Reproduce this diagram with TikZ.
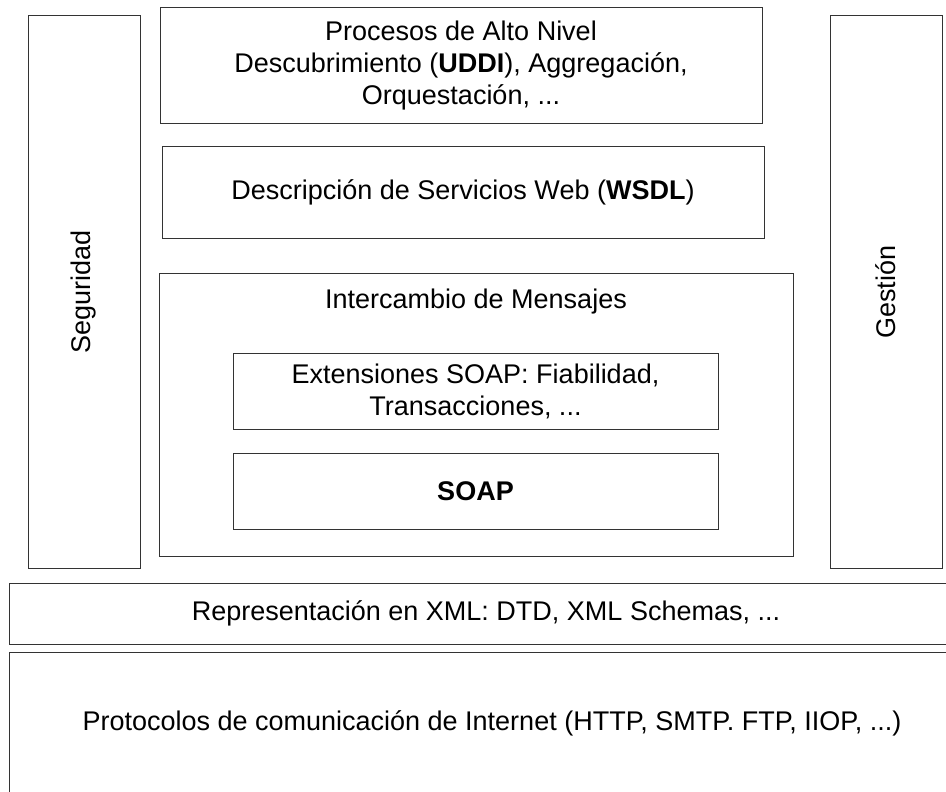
\documentclass[tikz,border=0pt]{standalone}
\usepackage{fontspec}
\setmainfont{Liberation Sans}
\usepackage{tikz}
\tikzstyle{stack}=[x=1pt, y=-1pt, font=\fontsize{27}{32}\selectfont]
\tikzstyle{layer}=[rectangle, draw=black!80, line width=1pt, inner sep=0pt, align=center]
\tikzstyle{side}=[layer, minimum width=112pt, minimum height=552pt]
\tikzstyle{upper}=[layer, minimum width=602pt]
\tikzstyle{inner}=[layer, minimum width=485pt, minimum height=76pt]
\tikzstyle{lbl}=[inner sep=0pt, anchor=base]

\begin{document}
\begin{tikzpicture}[stack]
	\useasboundingbox (0,0) rectangle (946,792);
	\clip (0,0) rectangle (946,792);

	%The side columns
	\draw (84,292) node[side] (seg) {};
	\node[rotate=90] at (seg.center) (segT) {Seguridad};
	\draw (886,292) node[side] (ges) {};
	\node[rotate=90] at (ges.center) (gesT) {Gestión};

	%The upper layers
	\draw (461,65.5) node[upper, minimum height=115pt] (alto) {Procesos de Alto Nivel\\Descubrimiento (\textbf{UDDI}), Aggregación,\\Orquestación, ...};
	\draw (463,192) node[upper, minimum height=92pt] (wsdl) {Descripción de Servicios Web (\textbf{WSDL})};

	%The messaging layer
	\draw (476,414.5) node[layer, minimum width=634pt, minimum height=283pt] (inter) {};
	\node[lbl] at (476,308) (interT) {Intercambio de Mensajes};
	\draw (475.5,391) node[inner] (ext) {Extensiones SOAP: Fiabilidad,\\Transacciones, ...};
	\draw (475.5,491) node[inner] (soap) {\textbf{SOAP}};

	%The bottom layers
	\draw (486,613.5) node[layer, minimum width=954pt, minimum height=61pt] (xml) {Representación en XML: DTD, XML Schemas, ...};
	\draw (492,723) node[layer, minimum width=966pt, minimum height=142pt] (prot) {Protocolos de comunicación de Internet (HTTP, SMTP. FTP, IIOP, ...)};
\end{tikzpicture}
\end{document}
